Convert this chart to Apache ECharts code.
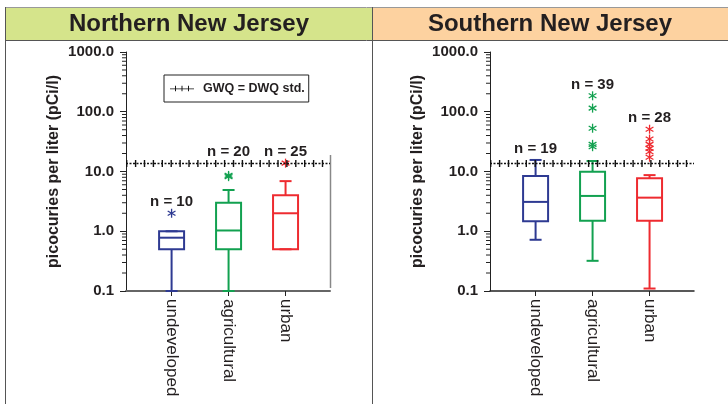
<!DOCTYPE html>
<html><head><meta charset="utf-8">
<script src="https://cdn.jsdelivr.net/npm/echarts@6/dist/echarts.min.js"></script>
<style>html,body{margin:0;padding:0;background:#fff}#c{width:728px;height:404px}</style>
</head><body><div id="c"></div>
<script>
const categories = ['undeveloped', 'agricultural', 'urban'];
const yTickLabels = ['0.1', '1.0', '10.0', '100.0', '1000.0'];
const panelTitles = ['Northern New Jersey', 'Southern New Jersey'];
const refName = 'GWQ = DWQ std.';
const refStd = 14;
// [min whisker, q1, median, q3, max whisker]
const northBoxes = [[0.1, 0.5, 0.78, 1.0, 1.0], [0.1, 0.5, 1.03, 3.0, 4.9], [0.5, 0.5, 2.0, 4.0, 6.9]];
const southBoxes = [[0.72, 1.47, 3.1, 8.4, 15.6], [0.32, 1.5, 3.9, 9.9, 15], [0.11, 1.5, 3.65, 7.7, 8.7]];
const northOutliers = [[2.0], [8.2, 8.6], [13.8]];
const southOutliers = [[], [185, 115, 53, 28.5, 26], [51, 35, 28.5, 24.4, 21.4, 17.3]];
const northN = [10, 20, 25];
const southN = [19, 39, 28];
const colors = ['#2e3a92', '#12a150', '#ee2b30'];

const FF = '"Liberation Sans", Arial, sans-serif';
const X_MIN = 0.2, X_MAX = 3.78;
const chart = echarts.init(document.getElementById('c'), null, {renderer: 'canvas'});

function boxRender(outliers, ns) {
  return function (params, api) {
    const i = params.dataIndex;
    const x = api.value(0);
    const c = colors[i];
    const p = v => api.coord([x, v]);
    const pMin = p(api.value(1)), pQ1 = p(api.value(2)), pMed = p(api.value(3)), pQ3 = p(api.value(4)), pMax = p(api.value(5));
    const hw = 12.5, cw = 6;
    const cx = pMin[0];
    const st = {stroke: c, lineWidth: 2, fill: null};
    const children = [
      {type: 'line', shape: {x1: cx, y1: pQ3[1], x2: cx, y2: pMax[1]}, style: st},
      {type: 'line', shape: {x1: cx, y1: pQ1[1], x2: cx, y2: pMin[1]}, style: st},
      {type: 'line', shape: {x1: cx - cw, y1: pMax[1], x2: cx + cw, y2: pMax[1]}, style: st},
      {type: 'line', shape: {x1: cx - cw, y1: pMin[1], x2: cx + cw, y2: pMin[1]}, style: st},
      {type: 'rect', shape: {x: cx - hw, y: pQ3[1], width: 2 * hw, height: pQ1[1] - pQ3[1]}, style: {stroke: c, lineWidth: 2, fill: 'rgba(0,0,0,0)'}},
      {type: 'line', shape: {x1: cx - hw, y1: pMed[1], x2: cx + hw, y2: pMed[1]}, style: st}
    ];
    const top = Math.max(api.value(5), ...outliers[i]);
    let ty = p(top)[1] - 11;
    const ry = p(refStd)[1];
    if (Math.abs(ty - ry) < 9) ty = ry - 11;
    children.push({type: 'text', style: {text: 'n = ' + ns[i], x: cx, y: ty, align: 'center', verticalAlign: 'middle', font: 'bold 15px ' + FF, fill: '#231f20'}});
    return {type: 'group', children};
  };
}

function starRender(params, api) {
  const pt = api.coord([api.value(0), api.value(1)]);
  const c = colors[api.value(2)];
  const r = 4.5;
  const st = {stroke: c, lineWidth: 1.3};
  const ch = [];
  for (let k = 0; k < 3; k++) {
    const a = Math.PI / 2 + k * Math.PI / 3;
    const dx = r * Math.cos(a), dy = r * Math.sin(a);
    ch.push({type: 'line', shape: {x1: pt[0] - dx, y1: pt[1] - dy, x2: pt[0] + dx, y2: pt[1] + dy}, style: st});
  }
  return {type: 'group', children: ch};
}

// log-axis minor tick positions (2..9 within each decade)
const minorVals = [];
for (let d = -1; d < 3; d++) for (let k = 2; k <= 9; k++) minorVals.push(+(k * Math.pow(10, d)).toPrecision(3));

function minorTickRender(params, api) {
  const pt = api.coord([X_MIN, api.value(0)]);
  return {type: 'line', shape: {x1: pt[0] - 4, y1: pt[1], x2: pt[0], y2: pt[1]}, style: {stroke: '#222', lineWidth: 1}};
}

const gridLefts = [126, 490];
const grids = gridLefts.map(l => ({left: l, top: 52, width: 204, height: 239}));
const xAxes = [0, 1].map(g => ({
  type: 'value', gridIndex: g, min: X_MIN, max: X_MAX,
  axisLine: {show: true, onZero: false, lineStyle: {color: g === 0 ? '#666' : '#222', width: g === 0 ? 2 : 1.5}},
  splitLine: {show: false},
  axisTick: {show: true, customValues: [1, 2, 3], length: 5, lineStyle: {color: '#222'}},
  axisLabel: {customValues: [1, 2, 3], formatter: v => categories[Math.round(v) - 1], rotate: -90, margin: 8,
    fontSize: 17, color: '#231f20', fontFamily: FF}
}));
const yAxes = [0, 1].map(g => ({
  type: 'log', logBase: 10, gridIndex: g, min: 0.1, max: 1000, position: 'left',
  axisLine: {show: true, onZero: false, lineStyle: {color: '#222'}},
  axisTick: {show: true, length: 6, lineStyle: {color: '#222'}},
  splitLine: {show: false},
  axisLabel: {formatter: v => yTickLabels[Math.round(Math.log10(v)) + 1], fontWeight: 'bold', fontSize: 15, margin: 12, color: '#231f20', fontFamily: FF},
  name: 'picocuries per liter (pCi/l)', nameLocation: 'middle', nameGap: 64,
  nameTextStyle: {fontWeight: 'bold', fontSize: 16, color: '#231f20', fontFamily: FF}
}));

const series = [];
[[northBoxes, northOutliers, northN], [southBoxes, southOutliers, southN]].forEach(([boxes, outs, ns], g) => {
  series.push({
    type: 'line', name: refName, xAxisIndex: g, yAxisIndex: g, data: [], color: '#111',
    markLine: {silent: true, symbol: 'none', label: {show: false}, animation: false,
      data: [
        {yAxis: refStd, lineStyle: {type: [2, 1.5], width: 1.3, color: '#111'}},
        {yAxis: refStd, lineStyle: {type: [1.4, 7.5], width: 7, color: '#111'}}
      ]}
  });
  series.push({
    type: 'custom', xAxisIndex: g, yAxisIndex: g, renderItem: minorTickRender, clip: false,
    data: minorVals.map(v => [v]), encode: {y: 0}, silent: true
  });
  series.push({
    type: 'custom', xAxisIndex: g, yAxisIndex: g, renderItem: boxRender(outs, ns),
    data: boxes.map((b, i) => [i + 1, ...b]), encode: {x: 0, y: [1, 2, 3, 4, 5]}, z: 3
  });
  const od = [];
  outs.forEach((arr, i) => arr.forEach(v => od.push([i + 1, v, i])));
  series.push({type: 'custom', xAxisIndex: g, yAxisIndex: g, renderItem: starRender, data: od, encode: {x: 0, y: 1}, z: 4});
});

const legendIcon = 'path://M0,4.4h40v1.2h-40z M8.4,0h1.6v9h-1.6z M19.2,0h1.6v9h-1.6z M30,0h1.6v9h-1.6z';

chart.setOption({
  animation: false,
  grid: grids,
  xAxis: xAxes,
  yAxis: yAxes,
  legend: {left: 164, top: 75, data: [refName], borderColor: '#222', borderWidth: 1, padding: [7, 4, 7, 6],
    itemWidth: 24, itemHeight: 7, icon: legendIcon, selectedMode: false,
    textStyle: {fontWeight: 'bold', fontSize: 12.5, color: '#231f20', fontFamily: FF, padding: [0, 0, 0, 4]}},
  graphic: [
    {type: 'rect', shape: {x: 6, y: 8, width: 366, height: 32}, style: {fill: '#d5e48b'}, silent: true},
    {type: 'rect', shape: {x: 373, y: 8, width: 355, height: 32}, style: {fill: '#fdd2a0'}, silent: true},
    {type: 'line', shape: {x1: 5, y1: 7.5, x2: 728, y2: 7.5}, style: {stroke: '#999', lineWidth: 1}},
    {type: 'line', shape: {x1: 5, y1: 40.5, x2: 728, y2: 40.5}, style: {stroke: '#555', lineWidth: 1}},
    {type: 'line', shape: {x1: 5.5, y1: 7, x2: 5.5, y2: 404}, style: {stroke: '#555', lineWidth: 1}},
    {type: 'line', shape: {x1: 372.5, y1: 7, x2: 372.5, y2: 404}, style: {stroke: '#555', lineWidth: 1}},
    {type: 'line', shape: {x1: 330.5, y1: 155, x2: 330.5, y2: 288}, style: {stroke: '#888', lineWidth: 1.5}},
    {type: 'text', style: {text: panelTitles[0], x: 189, y: 24, align: 'center', verticalAlign: 'middle', font: 'bold 24px ' + FF, fill: '#231f20'}},
    {type: 'text', style: {text: panelTitles[1], x: 550, y: 24, align: 'center', verticalAlign: 'middle', font: 'bold 24px ' + FF, fill: '#231f20'}}
  ],
  series
});
</script>
</body></html>
